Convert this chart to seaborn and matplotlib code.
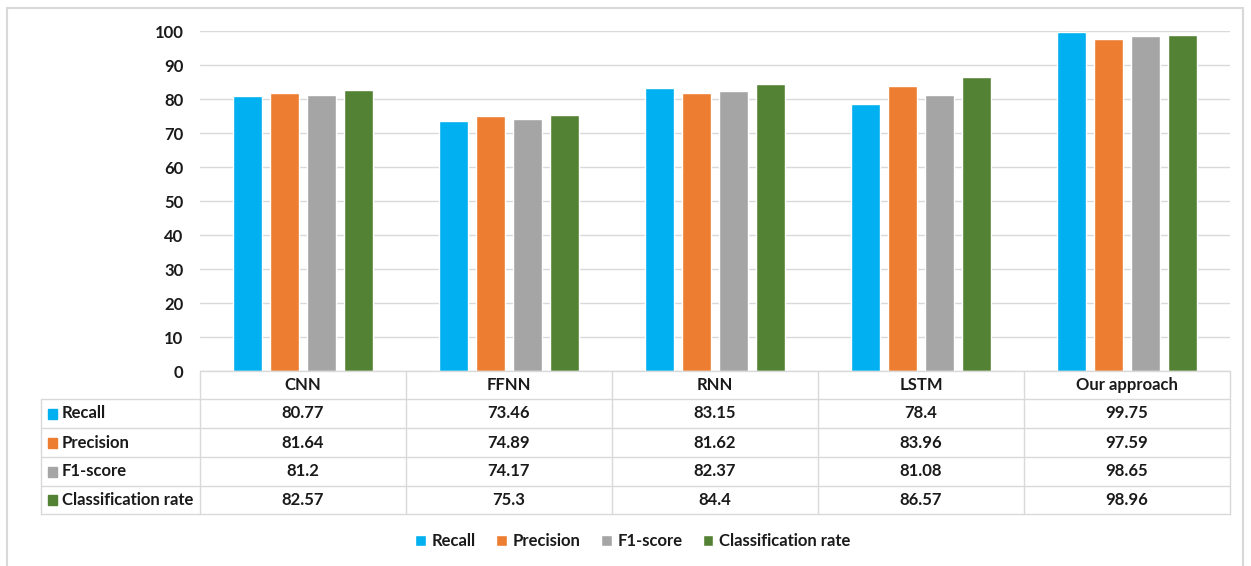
import numpy as np
import pandas as pd
import seaborn as sns
import matplotlib.pyplot as plt
from matplotlib import transforms
from matplotlib.patches import Rectangle

models = ['CNN', 'FFNN', 'RNN', 'LSTM', 'Our approach']
metrics = ['Recall', 'Precision', 'F1-score', 'Classification rate']
recall = [80.77, 73.46, 83.15, 78.4, 99.75]
precision = [81.64, 74.89, 81.62, 83.96, 97.59]
f1_score = [81.2, 74.17, 82.37, 81.08, 98.65]
class_rate = [82.57, 75.3, 84.4, 86.57, 98.96]
colors = ['#00B0F0', '#ED7D31', '#A5A5A5', '#548235']

series = [recall, precision, f1_score, class_rate]
df = pd.DataFrame([(m, met, v) for met, vals in zip(metrics, series)
                   for m, v in zip(models, vals)],
                  columns=['model', 'metric', 'value'])

sns.set_style('white')
plt.rcParams['font.family'] = ['Lato', 'DejaVu Sans']

W, H = 1251, 566
fig = plt.figure(figsize=(W / 100, H / 100), dpi=100)
ax = fig.add_axes([200 / W, 1 - 371 / H, 1030 / W, 340 / H])

def fy(px):
    return 1 - px / H

txt = '#1A1A1A'
fs = 12

sns.barplot(data=df, x='model', y='value', hue='metric', palette=colors,
            width=0.72, gap=0.22, saturation=1, ax=ax)
handles, labels = ax.get_legend_handles_labels()
ax.get_legend().remove()

ax.set_xlim(-0.5, 4.5)
ax.set_ylim(0, 100)
ax.set_yticks(range(0, 101, 10))
ax.set_xticks([])
ax.set_xlabel('')
ax.set_ylabel('')
ax.tick_params(axis='y', length=0, pad=12, labelsize=fs, labelcolor=txt)
for t in ax.get_yticklabels():
    t.set_fontweight('bold')
ax.grid(axis='y', color='#D9D9D9', linewidth=1)
ax.set_axisbelow(True)
for s in ax.spines.values():
    s.set_visible(False)

# data table under the chart
tr = transforms.blended_transform_factory(ax.transData, fig.transFigure)
lc = '#D9D9D9'
row_lines = [371, 399, 428, 457, 486, 514]
ax.plot([-0.5, 4.5], [fy(371)] * 2, color=lc, lw=1, transform=tr, clip_on=False)
for y in row_lines[1:]:
    fig.add_artist(plt.Line2D([41 / W, 1230 / W], [fy(y)] * 2, color=lc, lw=1))
for xv in np.arange(-0.5, 5, 1):
    ax.plot([xv, xv], [fy(371), fy(514)], color=lc, lw=1, transform=tr, clip_on=False)
fig.add_artist(plt.Line2D([41 / W] * 2, [fy(399), fy(514)], color=lc, lw=1))

for i, m in enumerate(models):
    ax.text(i, fy(385), m, transform=tr, ha='center', va='center',
            fontsize=fs, fontweight='bold', color=txt)
for r, (met, vals, c) in enumerate(zip(metrics, series, colors)):
    yc = (row_lines[r + 1] + row_lines[r + 2]) / 2
    fig.add_artist(Rectangle((48 / W, fy(yc + 5)), 9 / W, 10 / H, color=c))
    fig.text(62 / W, fy(yc), met, ha='left', va='center',
             fontsize=fs, fontweight='bold', color=txt)
    for i, v in enumerate(vals):
        ax.text(i, fy(yc), f'{v:g}', transform=tr, ha='center', va='center',
                fontsize=fs, fontweight='bold', color=txt)

fig.legend(handles, labels, loc='center', bbox_to_anchor=(633 / W, fy(541)),
           ncol=4, frameon=False, handlelength=0.65, handleheight=0.65,
           handletextpad=0.35, columnspacing=1.2, labelcolor=txt,
           prop={'weight': 'bold', 'size': fs})

# outer chart border
fig.add_artist(Rectangle((7 / W, -0.01), 1236 / W, fy(8) + 0.01, fill=False,
                         edgecolor='#D9D9D9', lw=1.5))

fig.savefig('out.png', dpi=100)
